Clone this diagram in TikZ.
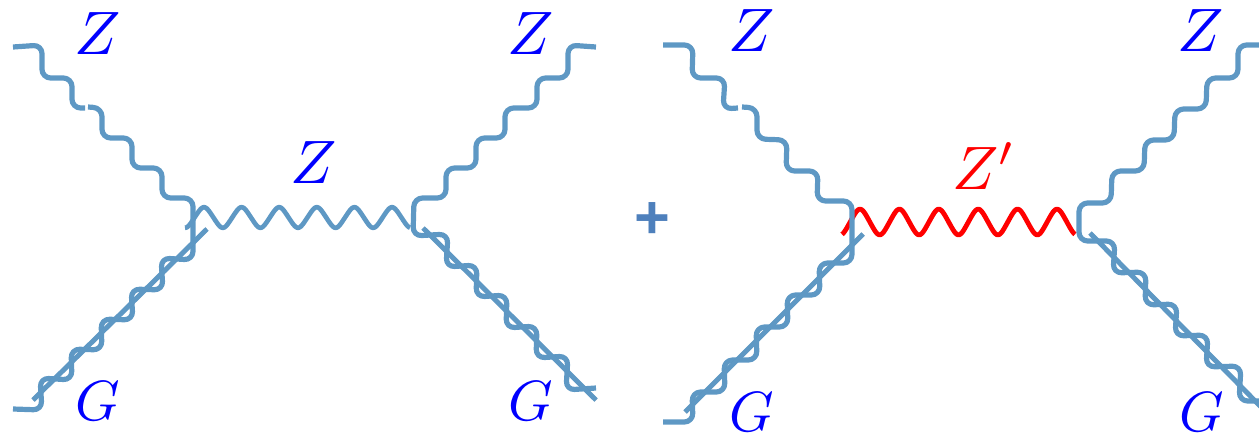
\documentclass[tikz,border=0pt]{standalone}
\usepackage{fontspec}
\newfontfamily\plusfont{Liberation Sans}
\definecolor{wavec}{RGB}{94,152,196}
\definecolor{plusc}{RGB}{78,128,188}
\tikzset{
  x=0.75pt,y=-0.75pt,
  wave/.style={draw=wavec,line width=3.9pt,rounded corners=6.5pt,line join=round},
  zline/.style={draw=wavec,line width=3.5pt,line join=round},
  zpline/.style={draw=red,line width=3.6pt,line join=round},
  glu/.style={draw=wavec,line width=3.7pt},
  gshade/.style={draw=black,opacity=0.22,line width=3pt,shift={(1.5,2.5)}},
  lab/.style={inner sep=0pt,text=blue,scale=4.6},
  labg/.style={inner sep=0pt,text=blue,scale=4.25},
  labred/.style={inner sep=0pt,text=red,scale=4.6},
  plusnode/.style={inner sep=0pt,text=plusc,font=\plusfont\bfseries\fontsize{46}{46}\selectfont},
}
\begin{document}
\begin{tikzpicture}
\path[use as bounding box] (0,0) rectangle (1259,436);
\clip (0,0) rectangle (1259,436);
% --- named end points ---
\coordinate (a1) at (13,47);   \coordinate (a2) at (13,409);
\coordinate (a3) at (596,47);  \coordinate (a4) at (596,388);
\coordinate (g1s) at (33,400); \coordinate (g1e) at (207,229);
\coordinate (g2s) at (423,228);\coordinate (g2e) at (596,400);
\coordinate (b1) at (663,45);  \coordinate (b2) at (663,422);
\coordinate (b3) at (1265,45); \coordinate (b4) at (1265,401);
\coordinate (g3s) at (685,412);\coordinate (g3e) at (863,234);
\coordinate (g4s) at (1090,233);\coordinate (g4e) at (1265,411);
% --- left diagram ---
\draw[zline] plot[domain=185:410,samples=200,smooth] (\x,{217.5-10*(cos((\x-204)/37.6*360)+0.03*cos(3*(\x-204)/37.6*360))});
\draw[wave] (a1) -- (42,45) -- (42,78) -- (72,78) -- (72,108) -- (85,108);
\draw[wave] (88,107) -- (102,108) -- (102,138) -- (132,138) -- (132,168) -- (162,168) -- (162,198) -- (193,198)
   -- (193,260) -- (161,258) -- (163,290) -- (131,289) -- (133,320) -- (101,319) -- (102,350) -- (71,349) -- (72,380) -- (40,378) -- (42,410) -- (a2);
\draw[wave] (a3) -- (568,45) -- (568,78) -- (537,78) -- (537,108) -- (505,108) -- (505,138) -- (476,138) -- (476,168) -- (446,168) -- (446,198) -- (414,198)
   -- (413,236) -- (448,234) -- (446,267) -- (477,265) -- (476,297) -- (507,295) -- (506,328) -- (537,326) -- (536,358) -- (568,356) -- (566,390) -- (a4);
\draw[gshade] (g1s) -- (g1e);
\draw[gshade] (g2s) -- (g2e);
\draw[glu] (g1s) -- (g1e);
\draw[glu] (g2s) -- (g2e);
\node[lab] (z1) at (98,33.5) {$Z$};
\node[lab] (z2) at (314,163) {$Z$};
\node[lab] (z3) at (531,33.5) {$Z$};
\node[labg] (g1) at (98,401) {$G$};
\node[labg] (g2) at (531,401) {$G$};
\node[plusnode] (plus) at (652.5,220.5) {+};
% --- right diagram ---
\draw[zpline] plot[domain=842:1075,samples=200,smooth] (\x,{222-12.5*(cos((\x-860)/39.4*360)+0.03*cos(3*(\x-860)/39.4*360))});
\draw[wave] (b1) -- (693,45) -- (692,78) -- (725,78) -- (723,109) -- (738,108);
\draw[wave] (742,107) -- (757,108) -- (757,139) -- (787,140) -- (786,171) -- (818,171) -- (817,201) -- (852,201)
   -- (852,263) -- (819,263) -- (820,295) -- (787,295) -- (788,327) -- (756,327) -- (757,360) -- (724,360) -- (725,392) -- (692,392) -- (693,422) -- (b2);
\draw[wave] (b3) -- (1238,45) -- (1238,78) -- (1207,78) -- (1206,109) -- (1175,109) -- (1174,140) -- (1145,140) -- (1144,171) -- (1112,171) -- (1111,203) -- (1079,203)
   -- (1079,241) -- (1115,241) -- (1113,273) -- (1146,272) -- (1145,305) -- (1177,304) -- (1175,336) -- (1208,335) -- (1206,367) -- (1241,366) -- (1239,401) -- (b4);
\draw[gshade] (g3s) -- (g3e);
\draw[gshade] (g4s) -- (g4e);
\draw[glu] (g3s) -- (g3e);
\draw[glu] (g4s) -- (g4e);
\node[lab] (z4) at (751.5,31) {$Z$};
\node[labred] (zp) at (984,166) {$Z'$};
\node[lab] (z5) at (1201,31) {$Z$};
\node[labg] (g3) at (752,412) {$G$};
\node[labg] (g4) at (1202,412) {$G$};
\end{tikzpicture}
\end{document}
